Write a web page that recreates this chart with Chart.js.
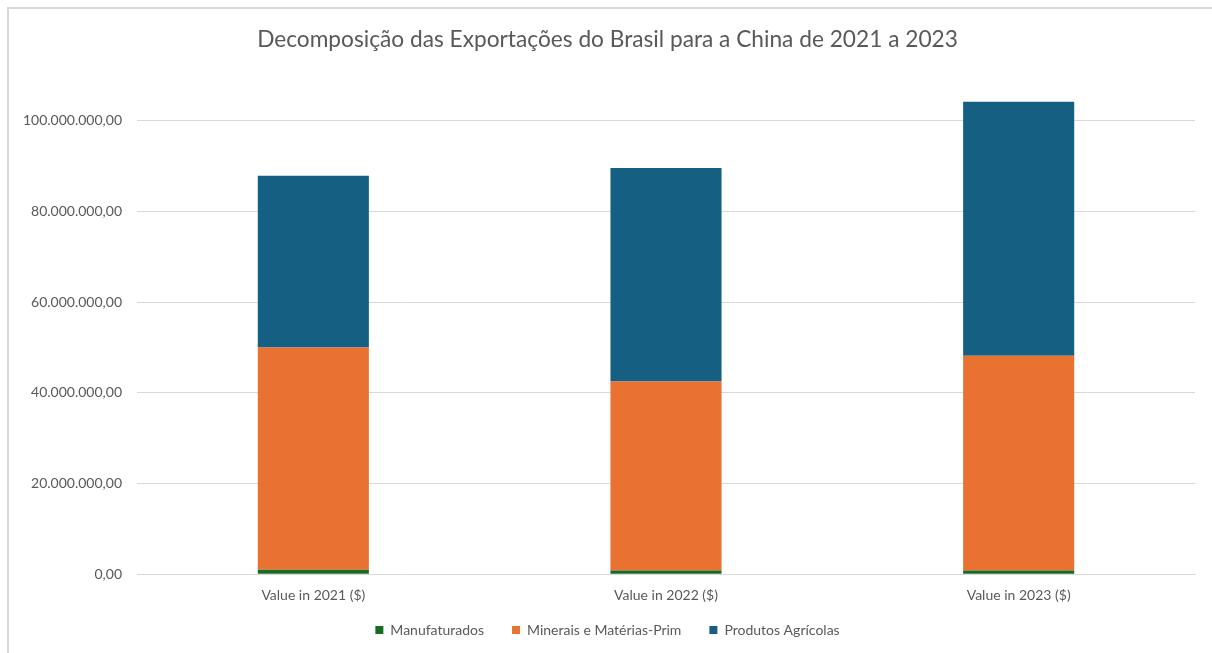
<!DOCTYPE html>
<html>
<head>
<meta charset="utf-8">
<script src="https://cdn.jsdelivr.net/npm/chart.js@4"></script>
<style>
  html, body { margin: 0; padding: 0; background: #fff; overflow: hidden; }
  #wrap { position: absolute; left: 0; top: 0; width: 1212px; height: 653px; }
  #frame { position: absolute; left: 7px; top: 7px; width: 1300px; height: 700px;
           border-left: 2px solid #d9d9d9; border-top: 2px solid #d9d9d9; }
  canvas { position: absolute; left: 0; top: 0; }
</style>
</head>
<body>
<div id="wrap">
  <div id="frame"></div>
  <canvas id="chart" width="1212" height="653"></canvas>
</div>
<script>
const categories = ["Value in 2021 ($)", "Value in 2022 ($)", "Value in 2023 ($)"];
const manufaturados = [1000000, 800000, 800000];
const minerais = [49000000, 41700000, 47400000];
const agricolas = [37900000, 47100000, 56000000];
const yTicks = [0, 20000000, 40000000, 60000000, 80000000, 100000000];

const txt = "#595959";
const font = "Lato, 'Open Sans', sans-serif";

function brNumber(v) {
  const parts = Math.round(v).toString().replace(/\B(?=(\d{3})+(?!\d))/g, ".");
  return parts + ",00";
}

new Chart(document.getElementById("chart"), {
  type: "bar",
  data: {
    labels: categories,
    datasets: [
      { label: "Manufaturados", data: manufaturados, backgroundColor: "#196B24" },
      { label: "Minerais e Matérias-Prim", data: minerais, backgroundColor: "#E97132" },
      { label: "Produtos Agrícolas", data: agricolas, backgroundColor: "#156082" },
    ],
  },
  options: {
    responsive: false,
    animation: false,
    categoryPercentage: 1,
    barPercentage: 0.315,
    layout: { padding: { left: 20, right: 17, top: 10, bottom: 6 } },
    datasets: { bar: { borderWidth: 0 } },
    plugins: {
      title: {
        display: true,
        text: "Decomposição das Exportações do Brasil para a China de 2021 a 2023",
        color: txt,
        font: { family: font, size: 22.7, weight: "normal" },
        padding: { top: 16, bottom: 45 },
      },
      legend: {
        position: "bottom",
        // empty title with negative padding pulls the legend row closer to the axis
        title: { display: true, text: "", font: { size: 10, lineHeight: 1 }, padding: { top: 0, bottom: -24 } },
        labels: {
          color: txt,
          font: { family: font, size: 14 },
          boxWidth: 8,
          boxHeight: 8,
          padding: 28,
        },
      },
      tooltip: { enabled: false },
    },
    scales: {
      x: {
        stacked: true,
        grid: { display: false },
        border: { color: "#d9d9d9", width: 1 },
        ticks: { color: txt, font: { family: font, size: 14 }, padding: 5 },
      },
      y: {
        stacked: true,
        min: 0,
        max: 105000000,
        afterBuildTicks: s => { s.ticks = yTicks.map(v => ({ value: v })); },
        afterFit: s => { s.width = 117; },
        grid: { color: "#d9d9d9", lineWidth: 1, drawTicks: false },
        border: { display: false },
        ticks: {
          color: txt,
          font: { family: font, size: 14 },
          padding: 15,
          callback: v => brNumber(v),
        },
      },
    },
  },
});
</script>
</body>
</html>
